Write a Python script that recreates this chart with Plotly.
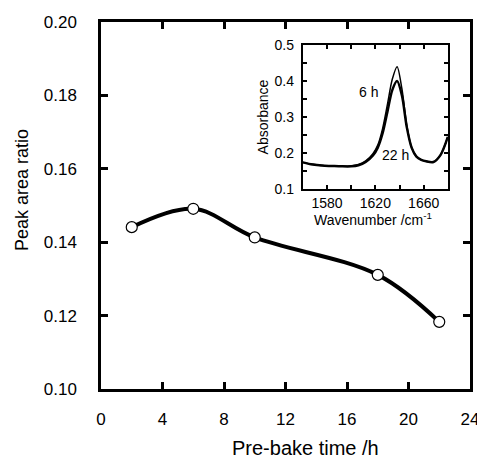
import plotly.graph_objects as go

# Main plot data
prebake_h = [2, 6, 10, 18, 22]
peak_ratio = [0.1441, 0.1491, 0.1413, 0.1311, 0.1183]

# Inset spectra
wavenumber = [1560, 1568, 1576, 1584, 1592, 1600, 1606, 1612, 1618, 1622, 1626, 1630,
              1634, 1638, 1642, 1646, 1650, 1654, 1658, 1662, 1668, 1674, 1680]
abs_6h = [0.174, 0.169, 0.165, 0.164, 0.163, 0.164, 0.168, 0.178, 0.198, 0.222, 0.268, 0.335,
          0.405, 0.440, 0.378, 0.277, 0.216, 0.190, 0.181, 0.177, 0.175, 0.195, 0.245]
abs_22h = [0.174, 0.168, 0.165, 0.164, 0.163, 0.163, 0.166, 0.175, 0.193, 0.215, 0.255, 0.315,
           0.375, 0.400, 0.360, 0.272, 0.215, 0.190, 0.181, 0.177, 0.175, 0.195, 0.245]

FONT = "Liberation Sans, Arial, sans-serif"

fig = go.Figure()
fig.add_trace(go.Scatter(
    x=prebake_h, y=peak_ratio, mode="lines+markers",
    line=dict(color="black", width=4, shape="spline", smoothing=1),
    marker=dict(symbol="circle", size=11, color="white", line=dict(color="black", width=1.2)),
    xaxis="x", yaxis="y", showlegend=False, cliponaxis=False))
fig.add_trace(go.Scatter(
    x=wavenumber, y=abs_22h, mode="lines",
    line=dict(color="black", width=2.5, shape="spline", smoothing=0.8),
    xaxis="x2", yaxis="y2", showlegend=False))
fig.add_trace(go.Scatter(
    x=wavenumber, y=abs_6h, mode="lines",
    line=dict(color="black", width=1.5, shape="spline", smoothing=0.8),
    xaxis="x2", yaxis="y2", showlegend=False))

axis_common = dict(showline=True, linecolor="black", mirror="allticks", ticks="inside",
                   tickcolor="black", showgrid=False, zeroline=False, automargin=False)

fig.update_layout(
    width=477, height=451,
    margin=dict(l=93, r=15, t=14, b=70, autoexpand=False),
    paper_bgcolor="white", plot_bgcolor="white",
    font=dict(family=FONT, color="black"),
    xaxis=dict(domain=[0, 1], range=[0, 24], dtick=4, tick0=0, linewidth=2.5,
               ticklen=7, tickwidth=2.5, tickfont=dict(size=17), ticklabelstandoff=13,
               **axis_common),
    yaxis=dict(domain=[0, 1], range=[0.10, 0.20], dtick=0.02, tick0=0.10, tickformat=".2f",
               linewidth=2.5, ticklen=7, tickwidth=2.5, tickfont=dict(size=17),
               ticklabelstandoff=18, **axis_common),
    xaxis2=dict(domain=[0.547, 0.940], anchor="y2", range=[1560, 1680], dtick=40, tick0=1580,
                linewidth=2, ticklen=4, tickwidth=1.5, tickfont=dict(size=14),
                ticklabelstandoff=0,
                minor=dict(dtick=20, tick0=1560, ticks="inside", ticklen=4, tickwidth=1.5,
                           tickcolor="black", showgrid=False),
                **axis_common),
    yaxis2=dict(domain=[0.545, 0.937], anchor="x2", range=[0.1, 0.5], dtick=0.1, tick0=0.1,
                tickformat=".1f", linewidth=2, ticklen=4, tickwidth=1.5, tickfont=dict(size=14),
                ticklabelstandoff=4,
                minor=dict(dtick=0.05, tick0=0.1, ticks="inside", ticklen=4, tickwidth=1.5,
                           tickcolor="black", showgrid=False),
                title=dict(text="Absorbance", font=dict(size=14), standoff=3),
                **axis_common),
    annotations=[
        dict(x=-0.214, y=0.542, xref="paper", yref="paper", text="Peak area ratio",
             textangle=-90, showarrow=False, font=dict(size=18, family=FONT),
             xanchor="center", yanchor="middle"),
        dict(x=0.553, y=-0.160, xref="paper", yref="paper", text="Pre-bake time /h",
             showarrow=False, font=dict(size=20, family=FONT),
             xanchor="center", yanchor="middle"),
        dict(x=0.737, y=0.462, xref="paper", yref="paper", text="Wavenumber /cm<sup>-1</sup>",
             showarrow=False, font=dict(size=14, family=FONT),
             xanchor="center", yanchor="middle"),
        dict(x=1614, y=0.37, xref="x2", yref="y2", text="6 h", showarrow=False,
             font=dict(size=14, family=FONT)),
        dict(x=1637, y=0.194, xref="x2", yref="y2", text="22 h", showarrow=False,
             font=dict(size=14, family=FONT)),
    ],
)

fig.write_html("out.html")
